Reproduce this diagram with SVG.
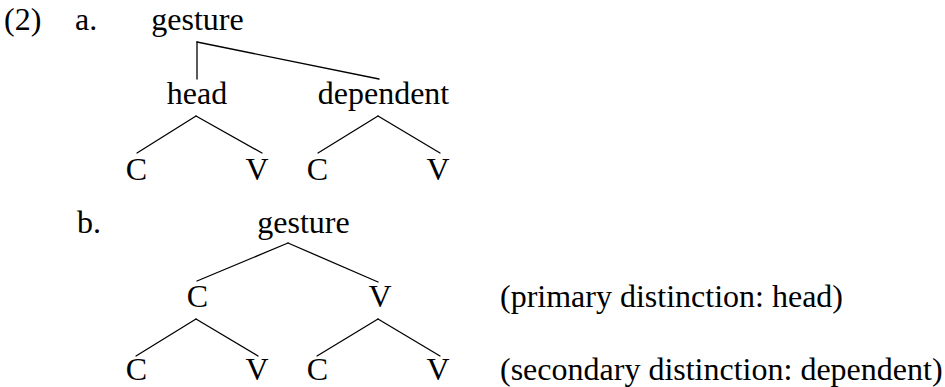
<svg xmlns="http://www.w3.org/2000/svg" width="945" height="387" viewBox="0 0 945 387">
  <style>
    text { font-family: "Liberation Serif", "Times New Roman", serif; font-size: 32px; fill: #000; }
    .n { text-anchor: middle; }
    .edge { stroke: #000; stroke-width: 1.3; fill: none; stroke-linecap: round; }
  </style>
  <rect width="945" height="387" fill="#fff"/>

  <!-- example labels -->
  <g id="labels">
    <text x="4" y="30">(2)</text>
    <text x="75" y="30">a.</text>
    <text x="77" y="233">b.</text>
  </g>

  <!-- tree (a) -->
  <g id="a-gesture"><text class="n" x="197.5" y="30">gesture</text></g>
  <g id="a-head"><text class="n" x="197" y="104">head</text></g>
  <g id="a-dependent"><text class="n" x="383.5" y="104">dependent</text></g>
  <g id="a-head-C"><text class="n" x="136.5" y="180">C</text></g>
  <g id="a-head-V"><text class="n" x="257" y="180">V</text></g>
  <g id="a-dep-C"><text class="n" x="317.5" y="180">C</text></g>
  <g id="a-dep-V"><text class="n" x="438" y="180">V</text></g>

  <!-- tree (b) -->
  <g id="b-gesture"><text class="n" x="303.5" y="233">gesture</text></g>
  <g id="b-C"><text class="n" x="197.5" y="307">C</text></g>
  <g id="b-V"><text class="n" x="380" y="307">V</text></g>
  <g id="b-C-C"><text class="n" x="136.5" y="380">C</text></g>
  <g id="b-C-V"><text class="n" x="257" y="380">V</text></g>
  <g id="b-V-C"><text class="n" x="317.5" y="380">C</text></g>
  <g id="b-V-V"><text class="n" x="438" y="380">V</text></g>

  <!-- annotations -->
  <g id="note-primary"><text x="500" y="307">(primary distinction: head)</text></g>
  <g id="note-secondary"><text x="500" y="380">(secondary distinction: dependent)</text></g>

  <!-- branches -->
  <g id="connectors" class="edge">
    <line x1="197" y1="42" x2="197" y2="79"/>
    <line x1="197" y1="42" x2="379" y2="79"/>
    <line x1="196" y1="116" x2="137" y2="153"/>
    <line x1="196" y1="116" x2="262" y2="153"/>
    <line x1="378" y1="116" x2="318" y2="153"/>
    <line x1="378" y1="116" x2="440" y2="153"/>

    <line x1="288" y1="243" x2="197" y2="281"/>
    <line x1="288" y1="243" x2="378" y2="282"/>
    <line x1="196" y1="319" x2="136" y2="356"/>
    <line x1="196" y1="319" x2="258" y2="356"/>
    <line x1="378" y1="319" x2="317" y2="356"/>
    <line x1="378" y1="319" x2="440" y2="356"/>
  </g>
</svg>
